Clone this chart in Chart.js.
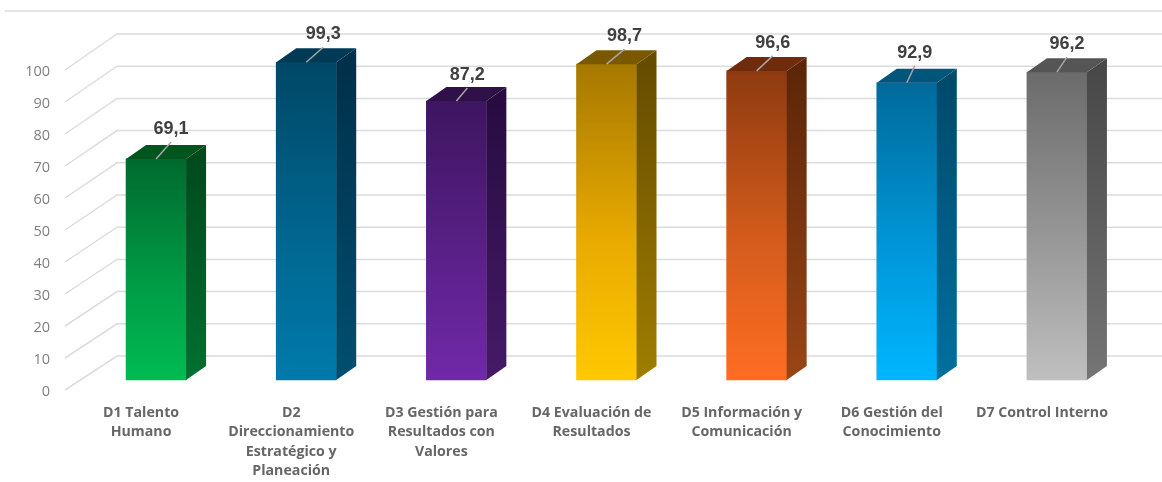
<!DOCTYPE html>
<html>
<head>
<meta charset="utf-8">
<script src="https://cdn.jsdelivr.net/npm/chart.js@4"></script>
<style>
  html, body { margin: 0; padding: 0; background: #fff; overflow: hidden; }
  canvas { display: block; }
</style>
</head>
<body>
<canvas id="grafico" width="1162" height="482"></canvas>
<script>
const categorias = [
  ["D1 Talento", "Humano"],
  ["D2", "Direccionamiento", "Estratégico y", "Planeación"],
  ["D3 Gestión para", "Resultados con", "Valores"],
  ["D4 Evaluación de", "Resultados"],
  ["D5 Información y", "Comunicación"],
  ["D6 Gestión del", "Conocimiento"],
  ["D7 Control Interno"]
]
const valores = [69.1, 99.3, 87.2, 98.7, 96.6, 92.9, 96.2]
const etiquetas = ["69,1", "99,3", "87,2", "98,7", "96,6", "92,9", "96,2"]

// colores de cada barra: arriba / medio / abajo, tapa, lateral arriba / abajo
const colorArriba = ["#006a2e", "#004766", "#3d1560", "#a57800", "#8e3a10", "#006a9a", "#6b6b6b"]
const colorMedio = ["#009a45", "#006690", "#5a2088", "#e8aa00", "#d45c1c", "#0096d8", "#989898"]
const colorAbajo = ["#00bb52", "#007aab", "#7029a8", "#ffc800", "#ff6d22", "#00b6ff", "#bfbfbf"]
const colorTapa = ["#00551f", "#003a54", "#2f1048", "#7a5800", "#6f2c0c", "#00557a", "#555555"]
const lateralArriba = ["#004a1e", "#00304a", "#280c40", "#664c00", "#5c2608", "#004a6c", "#484848"]
const lateralAbajo = ["#00702f", "#004f70", "#451a68", "#a07e00", "#9a4516", "#00709e", "#757575"]

// desplazamiento de profundidad
const fondo = { x: 52, y: -34, abre: 0.02 }
const base = { x: 15, y: -12 }
const lado = { x: 20, y: -14 }
// las marcas de la pared quedan 2px sobre el texto del eje
const subeMarca = -2
// rótulo respecto a la esquina de la barra
const rotuloDx = [15, 17, 11, 18, 16, 8, 10]
const rotuloDy = [-30, -28, -26, -28, -28, -30, -28]

const paredes = {
  id: "paredes",
  beforeDatasetsDraw(chart) {
    const { ctx, scales: { y }, chartArea, width } = chart
    ctx.save()
    ctx.strokeStyle = "#dcdcdc"
    ctx.lineWidth = 1.5
    ctx.beginPath()
    ctx.moveTo(5, 11)
    ctx.lineTo(width, 11)
    y.ticks.forEach(t => {
      const py = y.getPixelForValue(t.value) + subeMarca
      const atras = py + fondo.y - t.value * fondo.abre
      ctx.moveTo(chartArea.left - 1, py)
      ctx.lineTo(chartArea.left + fondo.x - 1, atras)
      ctx.lineTo(width, atras)
    })
    ctx.stroke()
    ctx.restore()
  }
}

const cubos = {
  id: "cubos",
  beforeDatasetDraw(chart) {
    chart.ctx.save()
    chart.ctx.translate(base.x, base.y)
  },
  afterDatasetDraw(chart, args) {
    const ctx = chart.ctx
    args.meta.data.forEach((bar, i) => {
      const der = bar.x + bar.width / 2
      const izq = bar.x - bar.width / 2
      const g = ctx.createLinearGradient(0, bar.y, 0, bar.base)
      g.addColorStop(0, lateralArriba[i])
      g.addColorStop(1, lateralAbajo[i])
      ctx.fillStyle = g
      ctx.beginPath()
      ctx.moveTo(der, bar.y)
      ctx.lineTo(der + lado.x, bar.y + lado.y)
      ctx.lineTo(der + lado.x, bar.base + lado.y)
      ctx.lineTo(der, bar.base)
      ctx.closePath()
      ctx.fill()

      ctx.fillStyle = colorTapa[i]
      ctx.beginPath()
      ctx.moveTo(izq, bar.y)
      ctx.lineTo(izq + lado.x, bar.y + lado.y)
      ctx.lineTo(der + lado.x, bar.y + lado.y)
      ctx.lineTo(der, bar.y)
      ctx.closePath()
      ctx.fill()

      // linea guia y rotulo
      const tx = bar.x + rotuloDx[i]
      const ty = bar.y + rotuloDy[i]
      ctx.strokeStyle = "#a6a6a6"
      ctx.lineWidth = 1.5
      ctx.beginPath()
      ctx.moveTo(bar.x, bar.y)
      ctx.lineTo(tx, ty + 13)
      ctx.stroke()
      ctx.fillStyle = "#404040"
      ctx.font = "bold 18px 'Liberation Sans'"
      ctx.textAlign = "center"
      ctx.textBaseline = "middle"
      ctx.fillText(etiquetas[i], tx, ty)
    })
    ctx.restore()
  }
}

new Chart(document.querySelector("#grafico"), {
  type: "bar",
  data: {
    labels: categorias,
    datasets: [{
      data: valores,
      barThickness: 60,
      clip: false,
      backgroundColor: c => {
        const i = c.dataIndex
        const { chartArea, scales: { y } } = c.chart
        if (!chartArea || i === undefined) return "#000000"
        const y0 = y.getPixelForValue(valores[i])
        const y1 = y.getPixelForValue(0)
        if (!Number.isFinite(y0) || !Number.isFinite(y1)) return colorAbajo[i]
        const g = c.chart.ctx.createLinearGradient(0, y0, 0, y1)
        g.addColorStop(0, colorArriba[i])
        g.addColorStop(0.55, colorMedio[i])
        g.addColorStop(1, colorAbajo[i])
        return g
      }
    }]
  },
  options: {
    responsive: false,
    animation: false,
    layout: { padding: { top: 72, right: 45, left: 0, bottom: 0 } },
    plugins: { legend: { display: false }, tooltip: { enabled: false } },
    scales: {
      x: {
        grid: { display: false },
        border: { display: false },
        afterFit: s => { s.height = 90 },
        ticks: {
          autoSkip: false,
          maxRotation: 0,
          padding: 3,
          color: "#666666",
          font: { family: "Open Sans", size: 14.2, weight: "bold", lineHeight: 1.37 }
        }
      },
      y: {
        min: 0,
        max: 100,
        grid: { display: false, drawTicks: false },
        border: { display: false },
        afterFit: s => { s.width = 66 },
        ticks: {
          stepSize: 10,
          padding: 16,
          color: "#7f7f7f",
          font: { family: "Open Sans", size: 14.5 }
        }
      }
    }
  },
  plugins: [paredes, cubos]
})
</script>
</body>
</html>
